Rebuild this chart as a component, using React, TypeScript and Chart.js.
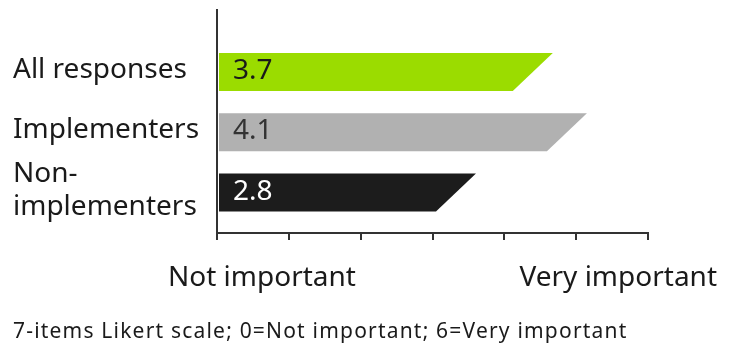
import { useEffect, useRef } from "react";
import { Chart, registerables } from "chart.js";

Chart.register(...registerables);

// Respondent groups and their mean importance score
const groupLines: string[][] = [["All responses"], ["Implementers"], ["Non-", "implementers"]];
const scores = [3.7, 4.1, 2.8];
const barColors = ["#9bdc00", "#b1b1b1", "#1c1c1c"];
const scoreTextColors = ["#1a1a1a", "#333333", "#ffffff"];
const scaleEnds = ["Not important", "Very important"];
const footnote = "7-items Likert scale; 0=Not important; 6=Very important";

const FONT = "'Noto Sans', 'DejaVu Sans', sans-serif";
const INK = "#1a1a1a";
const AXIS = "#333333";
const AXIS_MAX = 5.05;
const TICK_COUNT = 7;

// Bars with a slanted right end, value printed inside
const slantBars = {
  id: "slantBars",
  beforeDatasetDraw(chart: any, args: any) {
    const ctx = chart.ctx as CanvasRenderingContext2D;
    args.meta.data.forEach((bar: any, i: number) => {
      const { x, y, base, height } = bar.getProps(["x", "y", "base", "height"], true);
      const half = height / 2;
      const slant = half + 1;
      ctx.save();
      ctx.fillStyle = barColors[i];
      ctx.beginPath();
      ctx.moveTo(base + 1, y - half);
      ctx.lineTo(x + slant, y - half);
      ctx.lineTo(x - slant, y + half);
      ctx.lineTo(base + 1, y + half);
      ctx.closePath();
      ctx.fill();
      ctx.font = `28px ${FONT}`;
      ctx.fillStyle = scoreTextColors[i];
      ctx.textAlign = "left";
      ctx.textBaseline = "alphabetic";
      ctx.fillText(scores[i].toFixed(1), base + 15, y + 7);
      ctx.restore();
    });
    return false;
  },
  afterDraw(chart: any) {
    const ctx = chart.ctx as CanvasRenderingContext2D;
    const area = chart.chartArea;
    ctx.save();
    ctx.fillStyle = INK;
    ctx.textBaseline = "alphabetic";
    ctx.font = `28px ${FONT}`;
    ctx.textAlign = "left";
    ctx.fillText(scaleEnds[0], area.left - 49, area.bottom + 53);
    ctx.textAlign = "right";
    ctx.fillText(scaleEnds[1], area.right + 69, area.bottom + 53);
    ctx.font = `21px ${FONT}`;
    (ctx as any).letterSpacing = "1.2px";
    ctx.textAlign = "left";
    ctx.fillText(footnote, 13, area.bottom + 105);
    ctx.restore();
  },
};

export default function App() {
  const canvasRef = useRef<HTMLCanvasElement | null>(null);

  useEffect(() => {
    document.body.style.margin = "0";
    document.body.style.overflow = "hidden";
    const canvas = canvasRef.current;
    if (!canvas) return;

    const chart = new Chart(canvas, {
      type: "bar",
      data: {
        datasets: [
          {
            data: scores.map((v, i) => ({ x: v, y: i })),
            backgroundColor: barColors,
            barThickness: 38,
          },
        ],
      },
      options: {
        indexAxis: "y",
        animation: false,
        responsive: false,
        maintainAspectRatio: false,
        layout: { padding: { left: 13, top: 10, right: 88, bottom: 0 } },
        plugins: { legend: { display: false }, tooltip: { enabled: false } },
        scales: {
          x: {
            type: "linear",
            min: 0,
            max: AXIS_MAX,
            offset: false,
            afterBuildTicks(scale: any) {
              scale.ticks = Array.from({ length: TICK_COUNT }, (_, i) => ({
                value: (AXIS_MAX * i) / (TICK_COUNT - 1),
              }));
            },
            afterFit(scale: any) {
              scale.height = 114;
              scale.paddingLeft = 0;
              scale.paddingRight = 0;
            },
            grid: {
              display: true,
              offset: false,
              drawOnChartArea: false,
              drawTicks: true,
              tickLength: 7,
              color: AXIS,
              lineWidth: 2,
            },
            border: { display: true, color: AXIS, width: 2 },
            ticks: { display: false },
          },
          y: {
            type: "linear",
            reverse: true,
            offset: false,
            min: -1.03,
            max: 2.672,
            afterBuildTicks(scale: any) {
              scale.ticks = groupLines.map((_, i) => ({ value: i }));
            },
            afterFit(scale: any) {
              scale.width = 204;
              scale.paddingTop = 0;
              scale.paddingBottom = 0;
            },
            grid: { display: false, offset: false },
            border: { display: true, color: AXIS, width: 2 },
            ticks: {
              autoSkip: false,
              crossAlign: "far",
              labelOffset: -2,
              color: INK,
              font: { family: FONT, size: 28, lineHeight: 1.18 },
              callback: (value: any) => {
                const lines = groupLines[Math.round(Number(value))];
                return lines && lines.length === 1 ? lines[0] : lines;
              },
            },
          },
        },
      },
      plugins: [slantBars],
    } as any);

    return () => chart.destroy();
  }, []);

  return (
    <div style={{ width: 736, height: 347 }}>
      <canvas ref={canvasRef} width={736} height={347} style={{ display: "block" }} />
    </div>
  );
}
